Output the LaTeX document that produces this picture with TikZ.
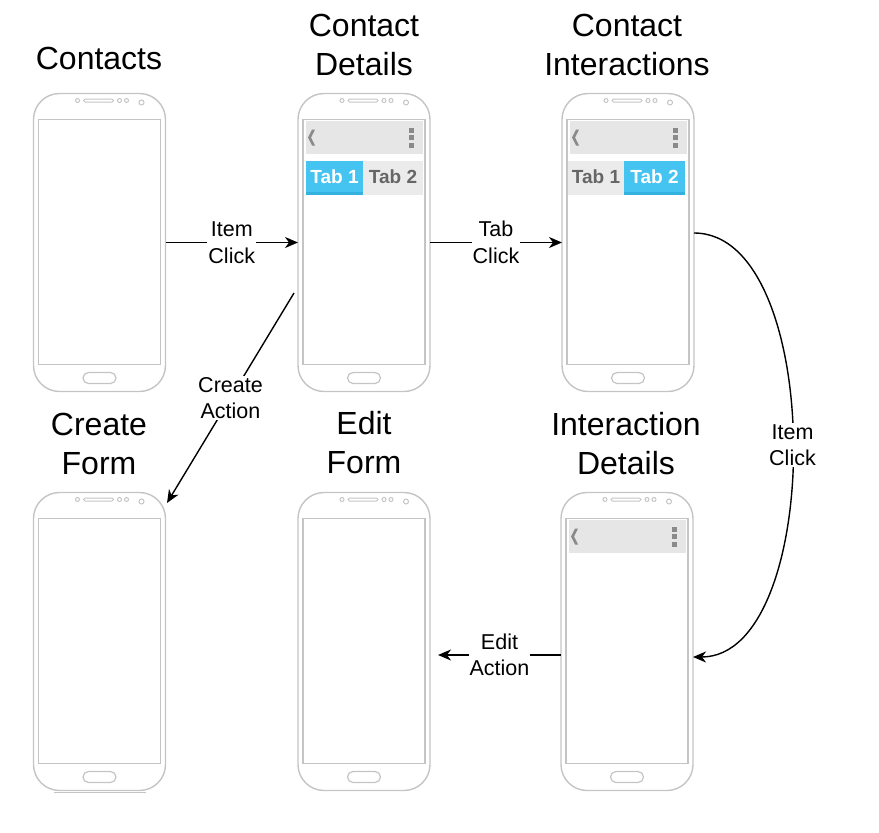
\documentclass[tikz,border=0pt]{standalone}
\usepackage{fontspec}
\setmainfont{Liberation Sans}
\usetikzlibrary{arrows.meta,calc}
\definecolor{phonegray}{HTML}{C4C4C4}
\definecolor{barGray}{HTML}{E6E6E6}
\definecolor{tabGray}{HTML}{EBEBEB}
\definecolor{tabBlue}{HTML}{45C4F2}
\definecolor{tabBlueDark}{HTML}{33B2E0}
\definecolor{iconGray}{HTML}{8A8A8A}
\definecolor{tabText}{HTML}{666666}
\tikzset{
 phonebox/.style={minimum width=132pt, minimum height=298pt, inner sep=0pt, outer sep=0pt},
 phoneline/.style={draw=phonegray, line width=1.4pt},
 title/.style={font=\fontsize{32}{39}\selectfont, align=center, inner sep=0pt},
 elabel/.style={font=\fontsize{21.5}{26.5}\selectfont, align=center, fill=white, inner sep=1pt},
 link/.style={-{Stealth[length=13pt,width=11pt,inset=4pt]}, line width=1.4pt, black},
 tabtxt/.style={font=\fontsize{19}{19}\selectfont\bfseries, inner sep=0pt}
}
% phone body with named node
\newcommand\phonebody[3]{%
 \node[phonebox] (#1) at (#2,#3) {};
 \begin{scope}[shift={(#2,#3)}]
  \draw[phoneline, rounded corners=26pt] (-66,-149) rectangle (66,149);
  \draw[phoneline, line width=1.2pt] (-61,-123) rectangle (61,122);
  \draw[phoneline, line width=1pt] (-22,-142) circle [radius=2pt];
  \draw[phoneline, line width=1pt, rounded corners=1.5pt] (-16,-143.5) rectangle (14,-140.5);
  \draw[phoneline, line width=1pt] (20,-142) circle [radius=2pt];
  \draw[phoneline, line width=1pt] (27,-142) circle [radius=2pt];
  \draw[phoneline, line width=1pt] (42,-140) circle [radius=2.5pt];
  \draw[phoneline, line width=1.2pt, rounded corners=5.5pt] (-16.5,130) rectangle (16.5,141);
 \end{scope}}
% toolbar
\newcommand\phonebar[2]{%
 \begin{scope}[shift={(#1,#2)}]
  \fill[barGray] (-58,-122) rectangle (59,-89);
  \fill[iconGray] (-49,-113) -- (-52,-113) -- (-56,-105) -- (-52,-97) -- (-49,-97) -- (-53,-105) -- cycle;
  \fill[iconGray] (45,-115) rectangle (49.5,-110);
  \fill[iconGray] (45,-107.5) rectangle (49.5,-102.5);
  \fill[iconGray] (45,-100) rectangle (49.5,-95);
 \end{scope}}
\begin{document}
\begin{tikzpicture}[x=1pt,y=-1pt]
\useasboundingbox (0,0) rectangle (879,833);
% phones
\phonebody{p1}{99.5}{242.5}
\phonebody{p2}{364}{242.5}
\phonebody{p3}{628}{242.5}
\phonebody{p4}{99.5}{641.5}
\phonebody{p5}{364}{641.5}
\phonebody{p6}{627}{641.5}
\draw[phonegray, line width=1pt] (54,792) -- (146,792);
\phonebar{364}{242.5}
\phonebar{628}{242.5}
\phonebar{627}{641.5}
% tabs phone 2
\begin{scope}[shift={(364,242.5)}]
 \fill[tabBlue] (-58,-82) rectangle (-1,-48);
 \fill[tabBlueDark] (-58,-51) rectangle (-1,-48);
 \fill[tabGray] (-1,-82) rectangle (59,-48);
 \node[tabtxt, text=white] (p2t1) at (-29.5,-65.5) {Tab 1};
 \node[tabtxt, text=tabText] (p2t2) at (29,-65.5) {Tab 2};
\end{scope}
% tabs phone 3
\begin{scope}[shift={(628,242.5)}]
 \fill[tabGray] (-60,-82) rectangle (-4,-48);
 \fill[tabBlue] (-4,-82) rectangle (57,-48);
 \fill[tabBlueDark] (-4,-51) rectangle (57,-48);
 \node[tabtxt, text=tabText] (p3t1) at (-32,-65.5) {Tab 1};
 \node[tabtxt, text=white] (p3t2) at (26.5,-65.5) {Tab 2};
\end{scope}
% titles
\node[title] (t1) at (99,58.5) {Contacts};
\node[title] (t2) at (364,45) {Contact\\Details};
\node[title] (t3) at (627,45) {Contact\\Interactions};
\node[title] (t4) at (99,444) {Create\\Form};
\node[title] (t5) at (364,442.5) {Edit\\Form};
\node[title] (t6) at (626,444) {Interaction\\Details};
% connectors
\draw[link] (p1.east) -- node[elabel] (l1) {Item\\Click} (p2.west);
\draw[link] (p2.east) -- node[elabel] (l2) {Tab\\Click} (p3.west);
\coordinate (a3s) at ($(p3.east)+(0,-9.5)$);
\coordinate (a3e) at ($(p6.east)+(0,15.5)$);
\draw[link] (a3s) .. controls +(132,0) and +(132,0) .. node[elabel] (l3) {Item\\Click} (a3e);
\coordinate (a4s) at ($(p6.west)+(0,13.5)$);
\coordinate (a4e) at ($(p5.east)+(8,13.5)$);
\draw[link] (a4s) -- node[elabel] (l4) {Edit\\Action} (a4e);
\coordinate (a5s) at ($(p2.west)+(-4,50.5)$);
\coordinate (a5e) at ($(p4.north east)+(1.5,10.5)$);
\draw[link] (a5s) -- node[elabel] (l5) {Create\\Action} (a5e);
\end{tikzpicture}
\end{document}
